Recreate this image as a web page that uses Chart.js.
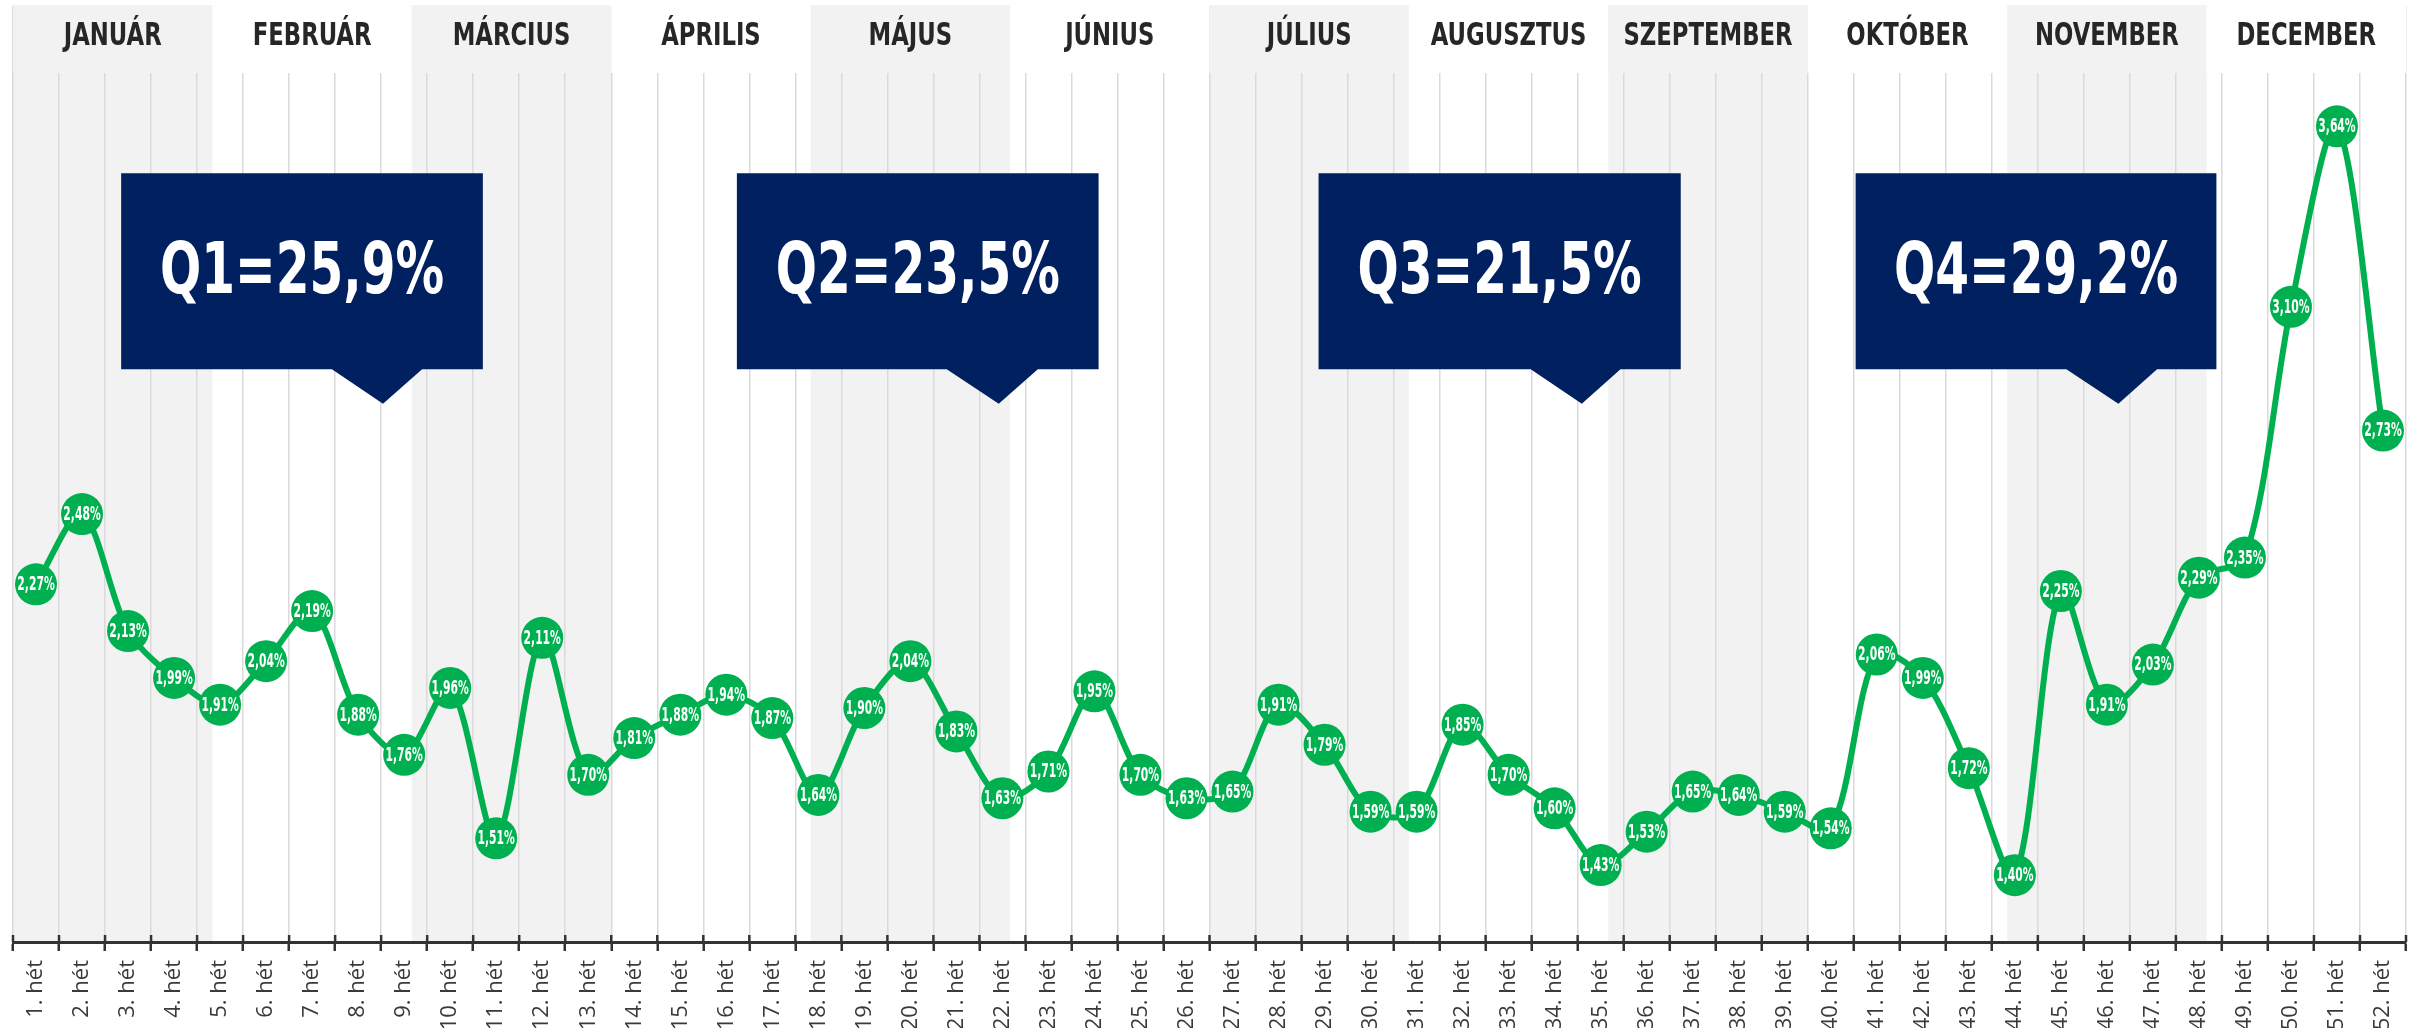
<!DOCTYPE html>
<html><head><meta charset="utf-8">
<script src="https://cdn.jsdelivr.net/npm/chart.js@4.4.1/dist/chart.umd.min.js"></script>
<style>html,body{margin:0;padding:0;background:#fff;}canvas{display:block;}</style>
</head><body>
<canvas id="c" width="2425" height="1029"></canvas>
<script>
const weekLabels = ['1. hét','2. hét','3. hét','4. hét','5. hét','6. hét','7. hét','8. hét','9. hét','10. hét',
  '11. hét','12. hét','13. hét','14. hét','15. hét','16. hét','17. hét','18. hét','19. hét','20. hét',
  '21. hét','22. hét','23. hét','24. hét','25. hét','26. hét','27. hét','28. hét','29. hét','30. hét',
  '31. hét','32. hét','33. hét','34. hét','35. hét','36. hét','37. hét','38. hét','39. hét','40. hét',
  '41. hét','42. hét','43. hét','44. hét','45. hét','46. hét','47. hét','48. hét','49. hét','50. hét',
  '51. hét','52. hét'];
const weeklyShare = [2.27,2.48,2.13,1.99,1.91,2.04,2.19,1.88,1.76,1.96,
  1.51,2.11,1.70,1.81,1.88,1.94,1.87,1.64,1.90,2.04,
  1.83,1.63,1.71,1.95,1.70,1.63,1.65,1.91,1.79,1.59,
  1.59,1.85,1.70,1.60,1.43,1.53,1.65,1.64,1.59,1.54,
  2.06,1.99,1.72,1.40,2.25,1.91,2.03,2.29,2.35,3.10,
  3.64,2.73];
const monthNames = ['JANUÁR','FEBRUÁR','MÁRCIUS','ÁPRILIS','MÁJUS','JÚNIUS','JÚLIUS','AUGUSZTUS','SZEPTEMBER','OKTÓBER','NOVEMBER','DECEMBER'];
const quarterTexts = ['Q1=25,9%','Q2=23,5%','Q3=21,5%','Q4=29,2%'];

// callout geometry (in week-boundary units and value units)
const calloutGeom = [
  {from:2.35, to:10.21, tip:8.04, bl:6.93, br:8.89},
  {from:15.73, to:23.59, tip:21.42, bl:20.29, br:22.27},
  {from:28.37, to:36.24, tip:34.09, bl:32.98, br:34.93},
  {from:40.04, to:47.88, tip:45.75, bl:44.62, br:46.59}
];
const calloutY = {top:3.50, bottom:2.913, tip:2.81};

const COND = "'DejaVu Sans Condensed','DejaVu Sans',sans-serif";

function condText(ctx, text, x, y, font, sx, color){
  ctx.save();
  ctx.font = font;
  ctx.fillStyle = color;
  ctx.textAlign = 'center';
  ctx.textBaseline = 'middle';
  ctx.translate(x, y);
  ctx.scale(sx, 1);
  ctx.fillText(text, 0, 0);
  ctx.restore();
}

const HEADER_H = 67;

const decoPlugin = {
  id: 'deco',
  beforeDraw(chart){
    const {ctx, chartArea:a, scales:{x}} = chart;
    const bx = u => x.getPixelForValue(u - 0.5);
    const n = weekLabels.length;
    ctx.save();
    ctx.fillStyle = '#f2f2f2';
    for (let m = 0; m < 12; m++){
      if (m % 2 === 0){
        const x0 = bx(m*n/12), x1 = bx((m+1)*n/12);
        ctx.fillRect(x0, a.top, x1 - x0, a.bottom - a.top);
      }
    }
    ctx.restore();
  },
  beforeDatasetsDraw(chart){
    const {ctx, chartArea:a, scales:{x}} = chart;
    const bx = u => x.getPixelForValue(u - 0.5);
    const n = weekLabels.length;
    ctx.save();
    for (let m = 0; m < 12; m++){
      const x0 = bx(m*n/12), x1 = bx((m+1)*n/12);
      ctx.fillStyle = (m % 2 === 0) ? '#f2f2f2' : '#ffffff';
      ctx.fillRect(x0, a.top - 1, x1 - x0, HEADER_H + 1);
    }
    for (let m = 0; m < 12; m++){
      const x0 = bx(m*n/12), x1 = bx((m+1)*n/12);
      condText(ctx, monthNames[m], (x0+x1)/2, a.top + 31, "bold 32px " + COND, 0.79, '#262626');
    }
    // upward part of tick marks
    ctx.strokeStyle = '#333333';
    ctx.lineWidth = 2.5;
    for (let i = 0; i <= n; i++){
      const px = bx(i);
      ctx.beginPath();
      ctx.moveTo(px, a.bottom);
      ctx.lineTo(px, a.bottom - 7);
      ctx.stroke();
    }
    ctx.restore();
  },
  afterDatasetsDraw(chart){
    const {ctx, scales:{x, y}} = chart;
    const bx = u => x.getPixelForValue(u - 0.5);
    const meta = chart.getDatasetMeta(0);
    meta.data.forEach((pt, i) => {
      const v = weeklyShare[i];
      const t = v.toFixed(2).replace('.', ',') + '%';
      condText(ctx, t, pt.x, pt.y + 1, "bold 19px " + COND, 0.63, '#ffffff');
    });
    // callouts
    const yt = y.getPixelForValue(calloutY.top);
    const yb = y.getPixelForValue(calloutY.bottom);
    const yp = y.getPixelForValue(calloutY.tip);
    calloutGeom.forEach((g, i) => {
      const x0 = bx(g.from), x1 = bx(g.to);
      ctx.save();
      ctx.fillStyle = '#002060';
      ctx.beginPath();
      ctx.moveTo(x0, yt);
      ctx.lineTo(x1, yt);
      ctx.lineTo(x1, yb);
      ctx.lineTo(bx(g.br), yb);
      ctx.lineTo(bx(g.tip), yp);
      ctx.lineTo(bx(g.bl), yb);
      ctx.lineTo(x0, yb);
      ctx.closePath();
      ctx.fill();
      ctx.restore();
      condText(ctx, quarterTexts[i], (x0+x1)/2, (yt+yb)/2 + 3, "bold 71px " + COND, 0.76, '#ffffff');
    });
  }
};

new Chart(document.getElementById('c'), {
  type: 'line',
  data: {
    labels: weekLabels,
    datasets: [{
      data: weeklyShare,
      borderColor: '#00b050',
      backgroundColor: '#00b050',
      borderWidth: 6,
      pointRadius: 21,
      pointHoverRadius: 21,
      pointBackgroundColor: '#00b050',
      pointBorderWidth: 0,
      tension: 0.3,
      fill: false,
      clip: false
    }]
  },
  options: {
    responsive: false,
    devicePixelRatio: 1,
    animation: false,
    events: [],
    layout: { autoPadding: false, padding: { left: 13, right: 19, top: 6, bottom: 1 } },
    plugins: { legend: { display: false }, tooltip: { enabled: false } },
    scales: {
      x: {
        type: 'category',
        offset: true,
        afterFit(scale){ scale.height = 86; },
        grid: {
          display: true,
          offset: true,
          drawOnChartArea: true,
          color: '#dadada',
          lineWidth: 1.5,
          drawTicks: true,
          tickLength: 9,
          tickColor: '#333333',
          tickWidth: 2.5
        },
        border: { display: true, color: '#333333', width: 3 },
        ticks: {
          autoSkip: false,
          minRotation: 90,
          maxRotation: 90,
          padding: 9,
          color: '#3a3a3a',
          font: { family: "'Open Sans', sans-serif", size: 22 }
        }
      },
      y: {
        display: false,
        min: 1.2,
        max: 4.0
      }
    }
  },
  plugins: [decoPlugin]
});
</script>
</body></html>
